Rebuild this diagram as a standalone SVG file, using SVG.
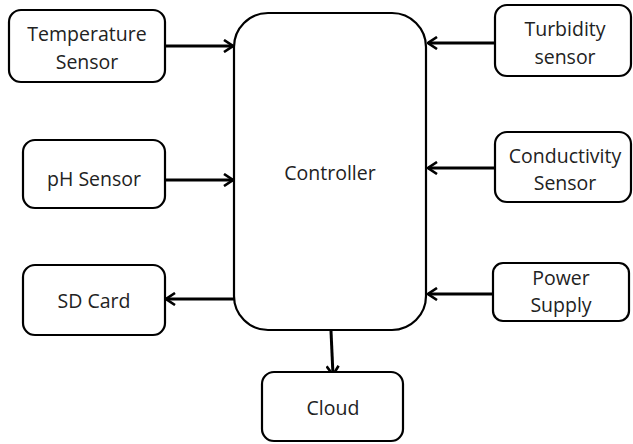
<svg xmlns="http://www.w3.org/2000/svg" width="633" height="444" viewBox="0 0 633 444">
<defs>
<style>
.box{fill:#fff;stroke:#000;stroke-width:2.2}
.t{font-family:"Open Sans","Liberation Sans",sans-serif;font-size:19.5px;fill:#222;text-anchor:middle}
.c{stroke:#000;stroke-width:3;fill:none}
</style>
<marker id="ah" viewBox="0 0 12 14" refX="11" refY="7" markerWidth="12" markerHeight="14" markerUnits="userSpaceOnUse" orient="auto">
<path d="M2,1 L11,7 L2,13" fill="none" stroke="#000" stroke-width="2.6"/>
</marker>
</defs>
<rect width="633" height="444" fill="#fff"/>
<g id="connectors">
<line class="c" x1="165" y1="46" x2="233" y2="46" marker-end="url(#ah)"/>
<line class="c" x1="165" y1="180" x2="233" y2="180" marker-end="url(#ah)"/>
<line class="c" x1="495" y1="43" x2="428" y2="43" marker-end="url(#ah)"/>
<line class="c" x1="495" y1="168" x2="428" y2="168" marker-end="url(#ah)"/>
<line class="c" x1="493" y1="294" x2="428" y2="294" marker-end="url(#ah)"/>
<line class="c" x1="234" y1="299" x2="166" y2="299" marker-end="url(#ah)"/>
<line class="c" x1="331" y1="331" x2="333" y2="375" marker-end="url(#ah)"/>
</g>
<g id="controller">
<rect class="box" x="234" y="13" width="192" height="317" rx="34"/>
<text class="t" x="330" y="180">Controller</text>
</g>
<g id="temperature">
<rect class="box" x="9" y="10" width="156" height="72" rx="12"/>
<text class="t" x="87" y="41">Temperature</text>
<text class="t" x="87" y="69">Sensor</text>
</g>
<g id="ph">
<rect class="box" x="23" y="140" width="142" height="68" rx="12"/>
<text class="t" x="94" y="186">pH Sensor</text>
</g>
<g id="sdcard">
<rect class="box" x="23" y="265" width="142" height="70" rx="12"/>
<text class="t" x="94" y="308">SD Card</text>
</g>
<g id="turbidity">
<rect class="box" x="495" y="5" width="136" height="71" rx="12"/>
<text class="t" x="565" y="36">Turbidity</text>
<text class="t" x="565" y="64">sensor</text>
</g>
<g id="conductivity">
<rect class="box" x="495" y="132" width="136" height="70" rx="12"/>
<text class="t" x="565" y="163">Conductivity</text>
<text class="t" x="565" y="190">Sensor</text>
</g>
<g id="power">
<rect class="box" x="493" y="263" width="136" height="58" rx="10"/>
<text class="t" x="561" y="285">Power</text>
<text class="t" x="561" y="312">Supply</text>
</g>
<g id="cloud">
<rect class="box" x="262" y="372" width="141" height="69" rx="12"/>
<text class="t" x="333" y="415">Cloud</text>
</g>
</svg>
